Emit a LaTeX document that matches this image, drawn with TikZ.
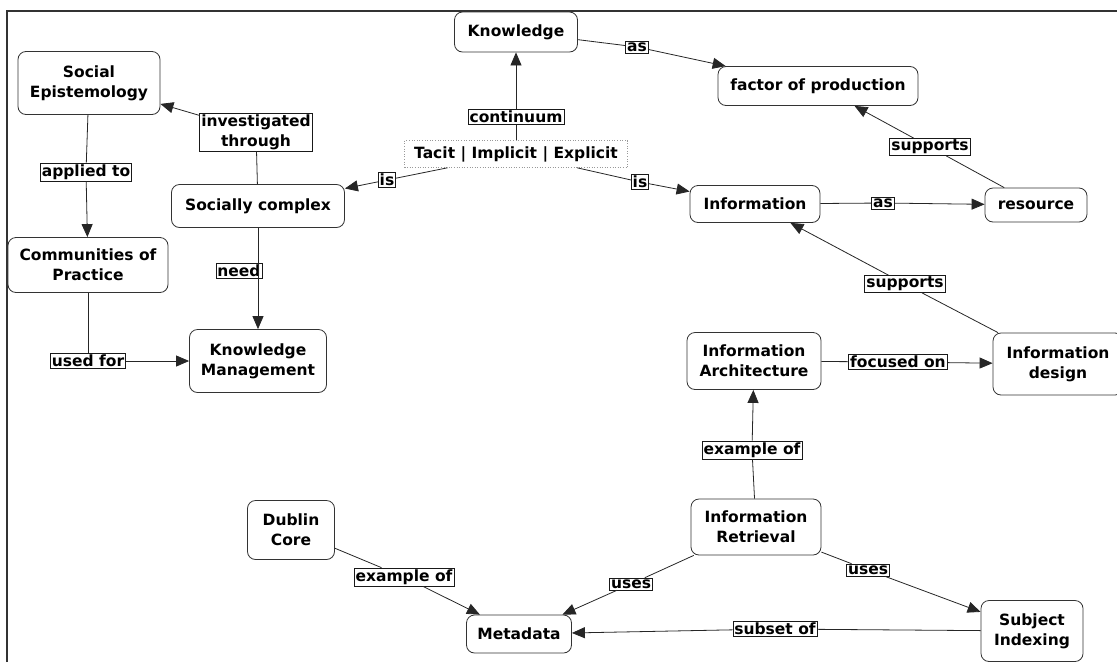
\documentclass[tikz,border=0pt]{standalone}
\usepackage{fontspec}
\setmainfont{DejaVu Sans}
\usetikzlibrary{arrows.meta}
\newcommand\cmfont{\bfseries\fontsize{15.5}{20}\selectfont}
\tikzset{
  cpt/.style={draw=black!80, line width=0.8pt, rounded corners=8pt, fill=white, align=center, font=\cmfont, inner sep=2pt},
  lbl/.style={draw=black!90, line width=0.7pt, fill=white, align=center, font=\cmfont, inner xsep=1.5pt, inner ysep=1.5pt},
  conn/.style={draw=black!85, line width=0.8pt},
  arr/.style={conn, -{Triangle[length=13pt,width=11pt]}},
}
\begin{document}
\begin{tikzpicture}[x=1pt,y=-1pt]
\useasboundingbox (0,0) rectangle (1117,662);
\draw[line width=1.5pt, black!80] (7,662) -- (7,11) -- (1117,11);

% concepts
\node[cpt, minimum width=123pt, minimum height=40pt] (know) at (516,32) {Knowledge};
\node[cpt, minimum width=200pt, minimum height=39pt] (fop) at (818,86) {factor of production};
\node[cpt, minimum width=142pt, minimum height=63pt] (se) at (89,83) {Social\\Epistemology};
\node[cpt, minimum width=173pt, minimum height=43pt] (sc) at (258,206) {Socially complex};
\node[cpt, minimum width=130pt, minimum height=37pt] (info) at (755,204) {Information};
\node[cpt, minimum width=102pt, minimum height=34pt] (res) at (1036,205) {resource};
\node[cpt, minimum width=160pt, minimum height=55pt] (cop) at (88,265) {Communities of\\Practice};
\node[cpt, minimum width=137pt, minimum height=63pt] (km) at (258,361) {Knowledge\\Management};
\node[cpt, minimum width=134pt, minimum height=57pt] (ia) at (754,361) {Information\\Architecture};
\node[cpt, minimum width=130pt, minimum height=62pt] (id) at (1058,364) {Information\\design};
\node[cpt, minimum width=130pt, minimum height=56pt] (ir) at (756,527) {Information\\Retrieval};
\node[cpt, minimum width=87pt, minimum height=59pt] (dc) at (291,530) {Dublin\\Core};
\node[cpt, minimum width=105pt, minimum height=38pt] (meta) at (519,634) {Metadata};
\node[cpt, minimum width=102pt, minimum height=61pt] (si) at (1032,631) {Subject\\Indexing};
\node[draw=black!40, dotted, line width=0.6pt, fill=white, minimum width=223pt, minimum height=27pt, font=\cmfont] (tacit) at (516,154) {Tacit | Implicit | Explicit};

% linking phrases
\node[lbl] (cont) at (516,117) {continuum};
\node[lbl] (as1) at (637,47) {as};
\node[lbl] (sup1) at (930,147) {supports};
\node[lbl] (isl) at (387,180) {is};
\node[lbl] (isr) at (640,182) {is};
\node[lbl] (as2) at (883,203) {as};
\node[lbl] (inv) at (256,132) {investigated\\through};
\node[lbl] (app) at (86,172) {applied to};
\node[lbl] (need) at (239,271) {need};
\node[lbl] (used) at (88,361) {used for};
\node[lbl] (sup2) at (905,284) {supports};
\node[lbl] (foc) at (898,362) {focused on};
\node[lbl] (ex1) at (752,450) {example of};
\node[lbl] (ex2) at (404,577) {example of};
\node[lbl] (uses1) at (631,584) {uses};
\node[lbl] (uses2) at (868,570) {uses};
\node[lbl] (sub) at (775,629) {subset of};

% connectors
\draw[conn] (tacit) -- (cont); \draw[arr] (cont) -- (know);
\draw[conn] (know) -- (as1); \draw[arr] (as1) -- (fop);
\draw[conn] (res) -- (sup1); \draw[arr] (sup1) -- (fop);
\draw[conn] (tacit) -- (isl); \draw[arr] (isl) -- (sc);
\draw[conn] (tacit) -- (isr); \draw[arr] (isr) -- (info);
\draw[conn] (info) -- (as2); \draw[arr] (as2) -- (res);
\draw[conn] (id) -- (sup2); \draw[arr] (sup2) -- (info);
\draw[conn] (sc) -- (inv); \draw[arr] (inv) -- (se);
\draw[conn] (se) -- (app); \draw[arr] (app) -- (cop);
\draw[arr] (sc) -- (km);
\draw[conn] (cop) -- (used); \draw[arr] (used) -- (km);
\draw[conn] (ia) -- (foc); \draw[arr] (foc) -- (id);
\draw[conn] (ir) -- (ex1); \draw[arr] (ex1) -- (ia);
\draw[conn] (dc) -- (ex2); \draw[arr] (ex2) -- (meta);
\draw[conn] (ir) -- (uses1); \draw[arr] (uses1) -- (meta);
\draw[conn] (ir) -- (uses2); \draw[arr] (uses2) -- (si);
\draw[conn] (si) -- (sub); \draw[arr] (sub) -- (meta);
\end{tikzpicture}
\end{document}
